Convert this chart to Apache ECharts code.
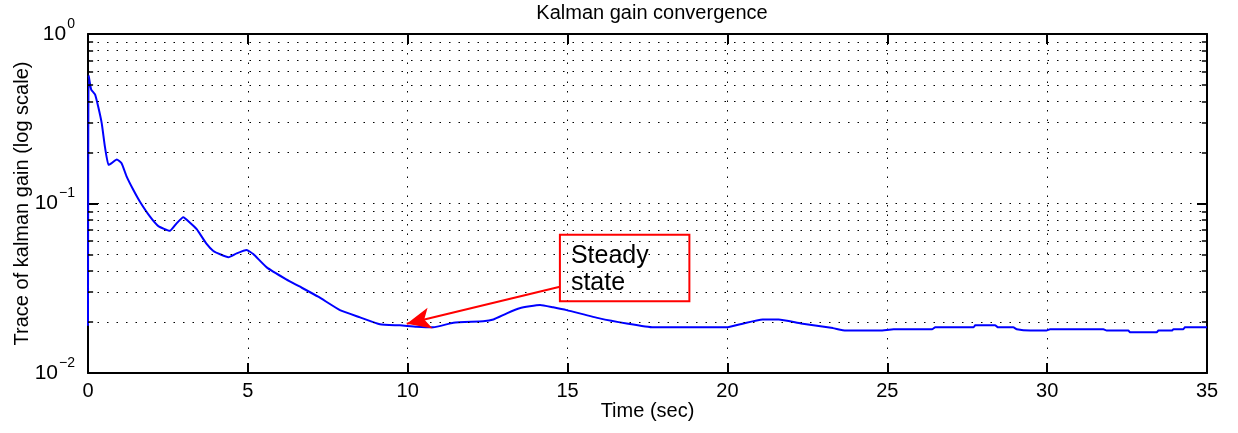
<!DOCTYPE html>
<html>
<head>
<meta charset="utf-8">
<script src="https://cdn.jsdelivr.net/npm/echarts@6/dist/echarts.min.js"></script>
<style>
html,body{margin:0;padding:0;background:#fff;}
#chart{width:1238px;height:433px;}
</style>
</head>
<body>
<div id="chart"></div>
<script>
// ---- data ----
const timeSec = [0, 0.02, 0.1, 0.22, 0.32, 0.43, 0.53, 0.64, 0.74, 0.9, 1.05, 1.21, 1.42, 1.63, 1.94, 2.2, 2.56, 2.77, 2.98, 3.19, 3.4, 3.71, 3.92, 4.15, 4.39, 4.65, 4.96, 5.17, 5.59, 6.2, 6.6, 7.2, 7.88, 8.51, 9.13, 9.76, 10.28, 10.8, 11.43, 12.36, 12.68, 13.1, 13.5, 14.14, 14.55, 14.97, 16.0, 16.85, 17.68, 19.97, 20.4, 21.1, 21.6, 22.3, 23.3, 23.7, 24.77, 25.2, 26.4, 26.5, 27.7, 27.75, 28.37, 28.47, 28.94, 29.05, 29.47, 29.98, 30.09, 31.76, 31.86, 32.54, 32.59, 33.43, 33.48, 33.9, 33.95, 34.26, 34.31, 35];
const gainTrace = [0.019, 0.57, 0.47, 0.44, 0.372, 0.297, 0.216, 0.169, 0.173, 0.182, 0.173, 0.144, 0.120, 0.102, 0.0836, 0.0736, 0.069, 0.0763, 0.083, 0.077, 0.0705, 0.0577, 0.0525, 0.050, 0.0482, 0.0508, 0.0532, 0.0503, 0.042, 0.0357, 0.0325, 0.0282, 0.0235, 0.0213, 0.0194, 0.0191, 0.01875, 0.0186, 0.0198, 0.0202, 0.0207, 0.0225, 0.0241, 0.0252, 0.0244, 0.0235, 0.021, 0.0196, 0.0186, 0.0186, 0.0194, 0.0207, 0.0207, 0.0196, 0.0184, 0.0178, 0.0178, 0.0181, 0.0181, 0.0186, 0.0186, 0.0191, 0.0191, 0.0186, 0.0186, 0.0181, 0.0178, 0.0178, 0.0181, 0.0181, 0.0178, 0.0178, 0.0174, 0.0174, 0.0178, 0.0178, 0.0181, 0.0181, 0.0186, 0.0186];
const xTicks = [0, 5, 10, 15, 20, 25, 30, 35];
const yDecades = [0.01, 0.1, 1];
const yMinor = [0.02, 0.03, 0.04, 0.05, 0.06, 0.07, 0.08, 0.09, 0.2, 0.3, 0.4, 0.5, 0.6, 0.7, 0.8, 0.9];
// annotation
const noteText = ['Steady', 'state'];
const noteBox = [[14.76, 0.0655], [18.81, 0.0265]];
const arrowFrom = [14.76, 0.0323];
const arrowTo = [9.97, 0.0195];

const FONT = 'Liberation Sans, Arial, sans-serif';
const xMin = xTicks[0], xMax = xTicks[xTicks.length - 1];

const minorGrid = [];
const minorTicks = [];
yMinor.forEach(v => {
  minorGrid.push([{coord: [xMin, v]}, {coord: [xMax, v]}]);
  minorTicks.push([{coord: [xMin, v]}, {coord: [xMin + 0.16, v]}]);
  minorTicks.push([{coord: [xMax - 0.16, v]}, {coord: [xMax, v]}]);
});

const chart = echarts.init(document.getElementById('chart'), null, {renderer: 'canvas'});
const axisLineStyle = {color: '#000', width: 2};
const dotted = {color: '#000', width: 1, type: [1.5, 8]};

chart.setOption({
  animation: false,
  backgroundColor: '#fff',
  title: {
    text: 'Kalman gain convergence',
    left: 647, top: -2, textAlign: 'center',
    textStyle: {fontFamily: FONT, fontSize: 20, fontWeight: 'normal', color: '#000'}
  },
  grid: {left: 88, right: 31, top: 34, bottom: 60, containLabel: false, outerBoundsMode: 'none'},
  xAxis: [{
    type: 'value', min: xMin, max: xMax, interval: 5, position: 'bottom',
    name: 'Time (sec)', nameLocation: 'middle', nameGap: 28, nameMoveOverlap: false,
    nameTextStyle: {fontFamily: FONT, fontSize: 20, color: '#000'},
    axisLine: {show: true, onZero: false, lineStyle: axisLineStyle},
    axisTick: {show: true, inside: true, length: 10, lineStyle: axisLineStyle},
    axisLabel: {fontFamily: FONT, fontSize: 20, color: '#000', margin: 8},
    splitLine: {show: true, lineStyle: dotted}
  }, {
    type: 'value', min: xMin, max: xMax, interval: 5, position: 'top',
    axisLine: {show: true, onZero: false, lineStyle: axisLineStyle},
    axisTick: {show: true, inside: true, length: 10, lineStyle: axisLineStyle},
    axisLabel: {show: false}, splitLine: {show: false}
  }],
  yAxis: [{
    type: 'log', logBase: 10, min: yDecades[0], max: yDecades[yDecades.length - 1], position: 'left',
    name: 'Trace of kalman gain (log scale)', nameLocation: 'middle', nameGap: 56, nameMoveOverlap: false,
    nameTextStyle: {fontFamily: FONT, fontSize: 20, color: '#000'},
    axisLine: {show: true, onZero: false, lineStyle: axisLineStyle},
    axisTick: {show: true, inside: true, length: 10, lineStyle: axisLineStyle},
    axisLabel: {
      margin: 13,
      formatter: function (v) {
        const e = Math.round(Math.log10(v));
        return '{b|10}{s|' + (e < 0 ? '\u2212' + (-e) : e) + '}';
      },
      rich: {
        b: {fontFamily: FONT, fontSize: 21, color: '#000'},
        s: {fontFamily: FONT, fontSize: 14, color: '#000', padding: [0, 0, 20, 1]}
      }
    },
    splitLine: {show: true, lineStyle: dotted}
  }, {
    type: 'log', logBase: 10, min: yDecades[0], max: yDecades[yDecades.length - 1], position: 'right',
    axisLine: {show: true, onZero: false, lineStyle: axisLineStyle},
    axisTick: {show: true, inside: true, length: 10, lineStyle: axisLineStyle},
    axisLabel: {show: false}, splitLine: {show: false}
  }],
  series: [{
    name: 'grid', type: 'line', data: [], silent: true, z: 1,
    markLine: {
      silent: true, symbol: 'none', animation: false,
      label: {show: false},
      data: minorGrid.map(d => [Object.assign({lineStyle: dotted}, d[0]), d[1]])
        .concat(minorTicks.map(d => [Object.assign({lineStyle: {color: '#000', width: 1.5, type: 'solid'}}, d[0]), d[1]])),
      lineStyle: dotted
    }
  }, {
    name: 'Trace', type: 'line', z: 3,
    data: timeSec.map((t, i) => [t, gainTrace[i]]),
    showSymbol: false, symbol: 'none',
    smooth: 0.15,
    lineStyle: {color: '#0000ff', width: 2},
    markLine: {
      silent: true, animation: false, label: {show: false},
      symbol: ['none', 'arrow'], symbolSize: [16, 24],
      lineStyle: {color: '#ff0000', width: 2, type: 'solid'},
      itemStyle: {color: '#ff0000'},
      data: [[{coord: arrowFrom}, {coord: arrowTo}]]
    },
    markArea: {
      silent: true,
      itemStyle: {color: 'rgba(0,0,0,0)', borderColor: '#ff0000', borderWidth: 2},
      label: {
        show: true, position: 'insideTopLeft', distance: 5,
        padding: [4, 0, 0, 7],
        formatter: noteText.join('\n'),
        fontFamily: FONT, fontSize: 25, lineHeight: 27, color: '#000'
      },
      data: [[{coord: noteBox[0]}, {coord: noteBox[1]}]]
    }
  }]
});
</script>
</body>
</html>
